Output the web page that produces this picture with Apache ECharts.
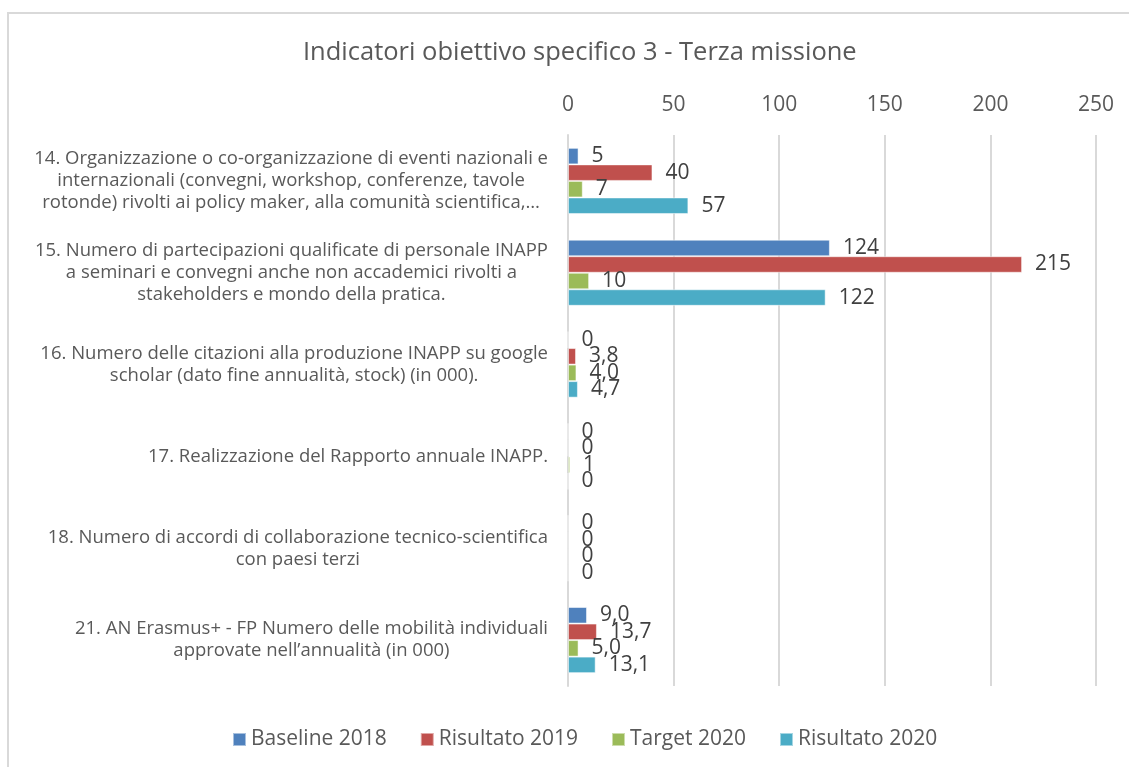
<!DOCTYPE html>
<html>
<head>
<meta charset="utf-8">
<script src="https://cdn.jsdelivr.net/npm/echarts@6/dist/echarts.min.js"></script>
<style>
  html, body { margin: 0; padding: 0; background: #fff; }
  #chart { width: 1129px; height: 767px; }
  /* chart area frame, only top and left edges fall inside the picture */
  .frame {
    position: absolute; left: 7px; top: 12px; width: 1140px; height: 780px;
    border: 2px solid #d9d9d9; pointer-events: none; box-sizing: border-box;
  }
</style>
</head>
<body>
<div id="chart"></div>
<div class="frame"></div>
<script>
const categories = [
  '14. Organizzazione o co-organizzazione di eventi nazionali e\ninternazionali (convegni, workshop, conferenze, tavole\nrotonde) rivolti ai policy maker, alla comunità scientifica,…',
  '15. Numero di partecipazioni qualificate di personale INAPP\na seminari e convegni anche non accademici rivolti a\nstakeholders e mondo della pratica.',
  '16. Numero delle citazioni alla produzione INAPP su google\nscholar (dato fine annualità, stock) (in 000).',
  '17. Realizzazione del Rapporto annuale INAPP.',
  '18. Numero di accordi di collaborazione tecnico-scientifica\ncon paesi terzi',
  '21. AN Erasmus+ - FP Numero delle mobilità individuali\napprovate nell’annualità (in 000)',
];
const seriesNames = ['Baseline 2018', 'Risultato 2019', 'Target 2020', 'Risultato 2020'];
const baseline2018 = [5, 124, 0, 0, 0, 9.0];
const risultato2019 = [40, 215, 3.8, 0, 0, 13.7];
const target2020 = [7, 10, 4.0, 1, 0, 5.0];
const risultato2020 = [57, 122, 4.7, 0, 0, 13.1];
// decimals shown in the data labels of each row
const labelDecimals = [0, 0, 1, 0, 0, 1];
const xTicks = [0, 50, 100, 150, 200, 250];

const colors = ['#4F81BD', '#C0504D', '#9BBB59', '#4BACC6'];
const font = '"Open Sans", sans-serif';
const textColor = '#595959';

function formatValue(params) {
  const v = params.value;
  if (v === 0) return '0';
  return v.toFixed(labelDecimals[params.dataIndex]).replace('.', ',');
}

const chart = echarts.init(document.getElementById('chart'), null, { renderer: 'canvas' });

const series = [baseline2018, risultato2019, target2020, risultato2020].map((data, idx) => ({
  name: seriesNames[idx],
  type: 'bar',
  data,
  barGap: '0%',
  barCategoryGap: '28%',
  itemStyle: { color: colors[idx], borderColor: 'rgba(255,255,255,0.5)', borderWidth: 1 },
  label: {
    show: true,
    position: 'right',
    distance: 13,
    formatter: formatValue,
    fontFamily: font,
    fontSize: 21,
    color: '#404040',
  },
}));

const option = {
  animation: false,
  textStyle: { fontFamily: font },
  title: {
    text: 'Indicatori obiettivo specifico 3 - Terza missione',
    left: 298,
    top: 35,
    textStyle: { fontFamily: font, fontSize: 25.5, fontWeight: 'normal', color: textColor },
  },
  legend: {
    data: seriesNames,
    top: 724,
    left: 227,
    icon: 'rect',
    itemWidth: 13,
    itemHeight: 13,
    itemGap: 33,
    textStyle: { fontFamily: font, fontSize: 21, color: textColor },
  },
  grid: { left: 568, right: 33, top: 135, bottom: 81 },
  xAxis: {
    type: 'value',
    position: 'top',
    min: xTicks[0],
    max: xTicks[xTicks.length - 1],
    interval: 50,
    axisLine: { show: false },
    axisTick: { show: false },
    axisLabel: { fontFamily: font, fontSize: 21, color: textColor, margin: 19 },
    splitLine: { lineStyle: { color: '#d9d9d9', width: 2 } },
  },
  yAxis: {
    type: 'category',
    inverse: true,
    data: categories,
    axisLine: { show: true, lineStyle: { color: '#d9d9d9', width: 2 } },
    axisTick: { show: false },
    axisLabel: {
      interval: 0,
      align: 'right',
      margin: 20,
      formatter: (v) => `{c|${v}}`,
      rich: {
        c: { align: 'center', fontFamily: font, fontSize: 18.5, lineHeight: 22, color: textColor },
      },
    },
  },
  series,
};

chart.setOption(option);
</script>
</body>
</html>
